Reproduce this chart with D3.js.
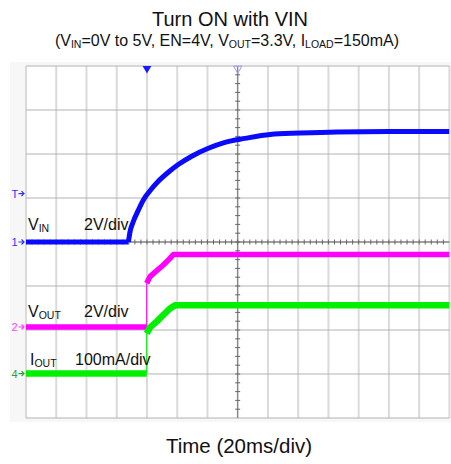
<!DOCTYPE html>
<html>
<head>
<meta charset="utf-8">
<script src="https://cdn.jsdelivr.net/npm/d3@7"></script>
<style>
  html, body { margin: 0; padding: 0; background: #fff; }
  svg { display: block; font-family: "Liberation Sans", Arial, sans-serif; }
</style>
</head>
<body>
<svg id="chart" width="451" height="464"></svg>
<script>
// time in ms from the left edge of the screen (20 ms/div, 14 div)
var timeDivs = d3.range(0, 15);
var vDivs = d3.range(-4, 5);

// VIN, ch1, 2 V/div (corner point repeated: the rise starts a new run)
var vinTime = [0, 67.7, 67.7, 68.8, 70.9, 74.3, 77.6, 82.0, 87.5, 94.1, 100.7, 109.6, 120.6, 131.6, 144.8, 161.4, 181.2, 205.5, 240, 280];
var vinVolts = [0, 0, 0, 0.47, 0.92, 1.45, 1.91, 2.33, 2.76, 3.17, 3.52, 3.9, 4.26, 4.53, 4.71, 4.89, 4.95, 5.0, 5.02, 5.02];

// VOUT, ch2, 2 V/div
var voutTime = [0, 79.8, 79.8, 82.0, 86.4, 90.8, 95.2, 97.4, 280];
var voutVolts = [0, 0, 1.99, 2.29, 2.56, 2.82, 3.12, 3.3, 3.3];

// IOUT, ch4, 100 mA/div
var ioutTime = [0, 79.8, 79.8, 82.0, 86.4, 90.8, 95.2, 98.5, 280];
var ioutMa = [0, 0, 91, 105, 118, 133, 148, 155, 155];

var triggerTime = 80;
var triggerLevel = 2.2;

var svg = d3.select('#chart');
var plotLeft = 26, plotRight = 449.4, plotTop = 66, plotBottom = 418;

var x = d3.scaleLinear().domain([0, 280]).range([plotLeft, plotRight]);
var yDiv = d3.scaleLinear().domain([-4, 4]).range([plotBottom, plotTop]);

function channelScale(offsetDiv, perDiv) {
  return d3.scaleLinear()
    .domain([(-4 - offsetDiv) * perDiv, (4 - offsetDiv) * perDiv])
    .range([plotBottom, plotTop]);
}
var y1 = channelScale(0, 2);
var y2 = channelScale(-1.932, 2);
var y4 = channelScale(-2.99, 100);

svg.append('clipPath').attr('id', 'screen')
  .append('rect')
  .attr('x', plotLeft).attr('y', plotTop)
  .attr('width', plotRight - plotLeft).attr('height', plotBottom - plotTop);

// screen background
svg.append('rect')
  .attr('x', 10).attr('y', 62).attr('width', 441).attr('height', 360)
  .attr('fill', '#f7f7f7');
svg.append('rect')
  .attr('x', plotLeft).attr('y', plotTop)
  .attr('width', plotRight - plotLeft).attr('height', plotBottom - plotTop)
  .attr('fill', '#fff');

// graticule
var grid = svg.append('g');
grid.selectAll('.vgrid')
  .data(timeDivs)
  .enter()
  .append('line')
  .attr('class', 'vgrid')
  .attr('x1', function (d) { return x(d * 20); })
  .attr('x2', function (d) { return x(d * 20); })
  .attr('y1', plotTop).attr('y2', plotBottom)
  .attr('stroke', '#dadada')
  .attr('stroke-width', 2);
grid.selectAll('.hgrid')
  .data(vDivs)
  .enter()
  .append('line')
  .attr('class', 'hgrid')
  .attr('x1', plotLeft).attr('x2', plotRight)
  .attr('y1', function (d) { return yDiv(d); })
  .attr('y2', function (d) { return yDiv(d); })
  .attr('stroke', '#b2b2b2')
  .attr('stroke-width', 1);

// centre axes with minor ticks
var cx = x(140), cy = yDiv(0);
grid.append('line')
  .attr('x1', cx).attr('x2', cx).attr('y1', plotTop).attr('y2', plotBottom)
  .attr('stroke', '#777').attr('stroke-width', 1);
grid.append('line')
  .attr('x1', plotLeft).attr('x2', plotRight).attr('y1', cy).attr('y2', cy)
  .attr('stroke', '#666').attr('stroke-width', 1);
grid.selectAll('.xtick')
  .data(d3.range(1, 70))
  .enter()
  .append('line')
  .attr('x1', function (d) { return x(d * 4); })
  .attr('x2', function (d) { return x(d * 4); })
  .attr('y1', cy - 2.5).attr('y2', cy + 2.5)
  .attr('stroke', '#666').attr('stroke-width', 1);
grid.selectAll('.ytick')
  .data(d3.range(-19, 20))
  .enter()
  .append('line')
  .attr('x1', cx - 2.5).attr('x2', cx + 2.5)
  .attr('y1', function (d) { return yDiv(d / 5); })
  .attr('y2', function (d) { return yDiv(d / 5); })
  .attr('stroke', '#666').attr('stroke-width', 1);

// traces
function trace(times, values, yScale, color, width, curve) {
  var pts = times.map(function (t, i) { return [t, values[i]]; });
  var g = svg.append('g').attr('clip-path', 'url(#screen)');
  // split at vertical steps: thin connector, thick runs
  var runs = [[pts[0]]];
  for (var i = 1; i < pts.length; i++) {
    if (pts[i][0] === pts[i - 1][0]) {
      if (pts[i][1] !== pts[i - 1][1]) {
        g.append('line')
          .attr('x1', x(pts[i][0])).attr('x2', x(pts[i][0]))
          .attr('y1', yScale(pts[i - 1][1])).attr('y2', yScale(pts[i][1]))
          .attr('stroke', color).attr('stroke-width', 1);
      }
      runs.push([pts[i]]);
    } else {
      runs[runs.length - 1].push(pts[i]);
    }
  }
  var line = d3.line()
    .x(function (d) { return x(d[0]); })
    .y(function (d) { return yScale(d[1]); })
    .curve(curve);
  runs.forEach(function (run) {
    g.append('path')
      .attr('d', line(run))
      .attr('fill', 'none')
      .attr('stroke', color)
      .attr('stroke-width', width)
      .attr('stroke-linejoin', 'round');
  });
}
trace(vinTime, vinVolts, y1, '#0a0aff', 5, d3.curveMonotoneX);
trace(voutTime, voutVolts, y2, '#ff00ff', 5.5, d3.curveLinear);
trace(ioutTime, ioutMa, y4, '#00f000', 6.5, d3.curveLinear);

// top markers
svg.append('path')
  .attr('d', d3.symbol().type(d3.symbolTriangle).size(34)())
  .attr('transform', 'translate(' + x(triggerTime) + ',' + (plotTop + 2.5) + ') rotate(180)')
  .attr('fill', '#1a1aff');
svg.append('path')
  .attr('d', d3.symbol().type(d3.symbolTriangle).size(30)())
  .attr('transform', 'translate(' + cx + ',' + (plotTop + 2.5) + ') rotate(180)')
  .attr('fill', 'none').attr('stroke', '#9a9aff').attr('stroke-width', 1);

// ground / trigger markers
var markers = [
  { label: 'T', y: y1(triggerLevel), color: '#3030ff' },
  { label: '1', y: y1(0), color: '#3030ff' },
  { label: '2', y: y2(0), color: '#ff40ff' },
  { label: '4', y: y4(0), color: '#30a030' }
];
var mk = svg.selectAll('.marker')
  .data(markers)
  .enter()
  .append('g')
  .attr('class', 'marker')
  .attr('transform', function (d) { return 'translate(0,' + d.y + ')'; });
mk.append('text')
  .attr('x', 11.5).attr('y', 4)
  .attr('font-size', 11)
  .attr('fill', function (d) { return d.color; })
  .text(function (d) { return d.label; });
mk.append('path')
  .attr('d', 'M18.5,0H24M21.5,-2.5L24,0L21.5,2.5')
  .attr('fill', 'none')
  .attr('stroke', function (d) { return d.color; })
  .attr('stroke-width', 1.2);

// channel labels
function subLabel(xPos, yPos, main, sub) {
  var t = svg.append('text')
    .attr('x', xPos).attr('y', yPos)
    .attr('font-size', 16).attr('fill', '#111');
  t.append('tspan').text(main);
  t.append('tspan').attr('font-size', 10.5).attr('dy', 2).text(sub);
}
subLabel(28, 229.5, 'V', 'IN');
subLabel(28, 317, 'V', 'OUT');
subLabel(30, 365, 'I', 'OUT');
svg.append('text').attr('x', 84).attr('y', 229.5).attr('font-size', 16).attr('fill', '#111').text('2V/div');
svg.append('text').attr('x', 84).attr('y', 317).attr('font-size', 16).attr('fill', '#111').text('2V/div');
svg.append('text').attr('x', 75).attr('y', 365).attr('font-size', 16).attr('fill', '#111').text('100mA/div');

// titles
svg.append('text')
  .attr('x', 230).attr('y', 26)
  .attr('text-anchor', 'middle')
  .attr('font-size', 20).attr('fill', '#111')
  .text('Turn ON with VIN');

var sub = svg.append('text')
  .attr('x', 227).attr('y', 45.5)
  .attr('text-anchor', 'middle')
  .attr('font-size', 16).attr('fill', '#111');
var subParts = [
  ['(V', false], ['IN', true], ['=0V to 5V, EN=4V, V', false], ['OUT', true],
  ['=3.3V, I', false], ['LOAD', true], ['=150mA)', false]
];
subParts.forEach(function (p, i) {
  var prevSub = i > 0 && subParts[i - 1][1];
  sub.append('tspan')
    .attr('font-size', p[1] ? 10.5 : 16)
    .attr('dy', p[1] ? 2 : (prevSub ? -2 : 0))
    .text(p[0]);
});

svg.append('text')
  .attr('x', 239).attr('y', 453)
  .attr('text-anchor', 'middle')
  .attr('font-size', 20.5).attr('fill', '#111')
  .text('Time (20ms/div)');
</script>
</body>
</html>
